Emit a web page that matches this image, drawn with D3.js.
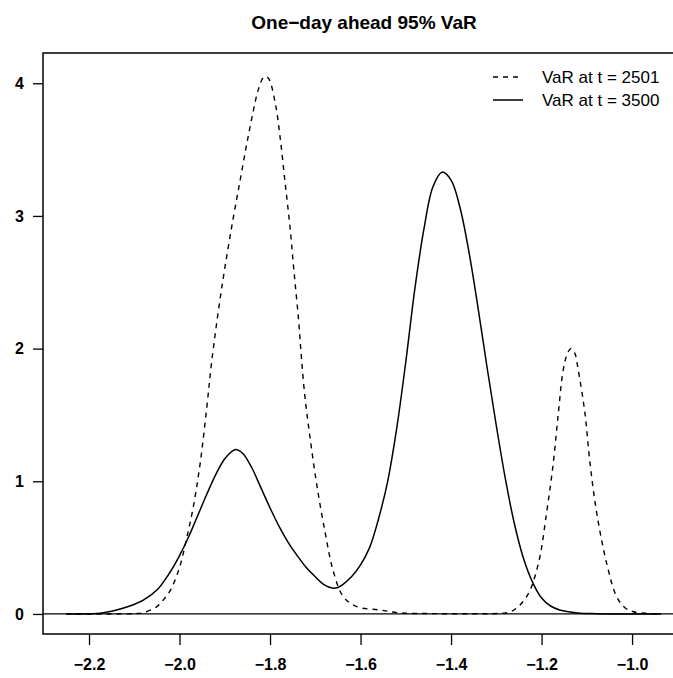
<!doctype html>
<html lang="en">
    <head>
        <meta charset="UTF-8">
        <title>One-day ahead 95% VaR</title>
        <style>
            body { margin: 0; background: #fff; }
            svg { display: block; font-family: "Liberation Sans", Arial, sans-serif; }
        </style>
    </head>
    <body>
        <script src="https://d3js.org/d3.v7.min.js"></script>
        <script>
            // density of the VaR at t = 2501 (dashed)
            var var2501X = [-2.25, -2.15, -2.10, -2.08, -2.05, -2.036, -2.02, -2.00, -1.985, -1.97, -1.955, -1.94,
                -1.929, -1.911, -1.896, -1.881, -1.866, -1.851, -1.837, -1.826, -1.813, -1.804, -1.789, -1.778,
                -1.767, -1.756, -1.747, -1.737, -1.731, -1.723, -1.712, -1.697, -1.678, -1.66, -1.638, -1.608,
                -1.557, -1.513, -1.45, -1.35, -1.29, -1.266, -1.233, -1.207, -1.189, -1.174, -1.163, -1.152,
                -1.142, -1.135, -1.127, -1.119, -1.104, -1.093, -1.078, -1.056, -1.034, -1.015, -0.997, -0.97, -0.936];
            var var2501Y = [0, 0, 0.003, 0.01, 0.055, 0.105, 0.18, 0.35, 0.56, 0.80, 1.12, 1.55,
                1.90, 2.36, 2.69, 2.99, 3.27, 3.55, 3.79, 3.95, 4.05, 4.04, 3.86, 3.60,
                3.26, 2.92, 2.58, 2.22, 1.95, 1.64, 1.34, 0.98, 0.61, 0.32, 0.13, 0.055,
                0.03, 0.008, 0.003, 0.002, 0.005, 0.02, 0.13, 0.38, 0.76, 1.14, 1.51, 1.84,
                1.97, 2.00, 1.97, 1.84, 1.51, 1.14, 0.76, 0.38, 0.13, 0.045, 0.017, 0.005, 0];

            // density of the VaR at t = 3500 (solid)
            var var3500X = [-2.25, -2.20, -2.176, -2.139, -2.11, -2.08, -2.05, -2.02, -2.00, -1.98, -1.96,
                -1.94, -1.92, -1.90, -1.88, -1.875, -1.86, -1.84, -1.82, -1.80, -1.78, -1.76, -1.74, -1.72,
                -1.70, -1.68, -1.662, -1.65, -1.64, -1.62, -1.60, -1.58, -1.56, -1.54, -1.52, -1.50, -1.48,
                -1.46, -1.44, -1.42, -1.40, -1.38, -1.36, -1.34, -1.32, -1.30, -1.28, -1.26, -1.24, -1.22,
                -1.20, -1.18, -1.16, -1.12, -1.08, -0.936];
            var var3500Y = [0, 0.002, 0.005, 0.03, 0.06, 0.105, 0.18, 0.32, 0.44, 0.58, 0.74,
                0.90, 1.05, 1.17, 1.235, 1.24, 1.21, 1.10, 0.95, 0.80, 0.66, 0.54, 0.44, 0.35,
                0.28, 0.22, 0.195, 0.20, 0.22, 0.28, 0.37, 0.50, 0.72, 1.00, 1.40, 1.90, 2.45,
                2.90, 3.22, 3.33, 3.27, 3.06, 2.72, 2.30, 1.85, 1.42, 1.02, 0.68, 0.42, 0.24,
                0.12, 0.06, 0.03, 0.008, 0.002, 0];

            var xTicks = [-2.2, -2.0, -1.8, -1.6, -1.4, -1.2, -1.0];
            var yTicks = [0, 1, 2, 3, 4];
            var legendLabels = ["VaR at t = 2501", "VaR at t = 3500"];

            var width = 673,
                height = 678;

            var svg = d3.select("body").append("svg")
                .attr("width", width)
                .attr("height", height);

            // plot box runs past the right edge of the picture
            var boxLeft = 43, boxRight = 685, boxTop = 53, boxBottom = 634;

            var x = d3.scaleLinear()
                .domain([-2.3017, -0.883])
                .range([boxLeft, boxRight]);

            var y = d3.scaleLinear()
                .domain([-0.151, 4.228])
                .range([boxBottom, boxTop]);

            var line = d3.line()
                .x(function(d) { return x(d[0]); })
                .y(function(d) { return y(d[1]); })
                .curve(d3.curveCatmullRom.alpha(0.5));

            // title
            svg.append("text")
                .attr("x", (boxLeft + boxRight) / 2)
                .attr("y", 29)
                .attr("text-anchor", "middle")
                .style("font-size", "19px")
                .style("font-weight", "bold")
                .text("One\u2212day ahead 95% VaR");

            // zero line
            svg.append("line")
                .attr("x1", boxLeft)
                .attr("x2", boxRight)
                .attr("y1", y(0))
                .attr("y2", y(0))
                .attr("stroke", "#000")
                .attr("stroke-width", 1.2);

            // curves
            svg.append("path")
                .datum(d3.zip(var2501X, var2501Y))
                .attr("d", line)
                .attr("fill", "none")
                .attr("stroke", "#000")
                .attr("stroke-width", 1.4)
                .attr("stroke-dasharray", "5,5");

            svg.append("path")
                .datum(d3.zip(var3500X, var3500Y))
                .attr("d", line)
                .attr("fill", "none")
                .attr("stroke", "#000")
                .attr("stroke-width", 1.5);

            // axes
            var xAxis = svg.append("g")
                .attr("transform", "translate(0," + boxBottom + ")")
                .call(d3.axisBottom(x)
                    .tickValues(xTicks)
                    .tickSize(11)
                    .tickPadding(14)
                    .tickFormat(d3.format(".1f")));

            var yAxis = svg.append("g")
                .attr("transform", "translate(" + boxLeft + ",0)")
                .call(d3.axisLeft(y)
                    .tickValues(yTicks)
                    .tickSize(10)
                    .tickPadding(9)
                    .tickFormat(d3.format("d")));

            [xAxis, yAxis].forEach(function(g) {
                g.select(".domain").remove();
                g.selectAll(".tick line").attr("stroke-width", 1.3);
                g.selectAll("text")
                    .style("font-family", "'Liberation Sans', Arial, sans-serif")
                    .style("font-size", "16px")
                    .style("font-weight", "bold");
            });

            // box
            svg.append("rect")
                .attr("x", boxLeft)
                .attr("y", boxTop)
                .attr("width", boxRight - boxLeft)
                .attr("height", boxBottom - boxTop)
                .attr("fill", "none")
                .attr("stroke", "#000")
                .attr("stroke-width", 1.5);

            // legend
            var legend = svg.append("g")
                .attr("transform", "translate(493,77)");

            legend.selectAll("line")
                .data(legendLabels)
                .enter()
                .append("line")
                    .attr("x1", 0)
                    .attr("x2", 30)
                    .attr("y1", function(d, i) { return i * 23; })
                    .attr("y2", function(d, i) { return i * 23; })
                    .attr("stroke", "#000")
                    .attr("stroke-width", function(d, i) { return i ? 1.5 : 1.4; })
                    .attr("stroke-dasharray", function(d, i) { return i ? null : "5,5"; });

            legend.selectAll("text")
                .data(legendLabels)
                .enter()
                .append("text")
                    .attr("x", 49)
                    .attr("y", function(d, i) { return i * 23 + 6; })
                    .style("font-size", "17px")
                    .text(function(d) { return d; });
        </script>
    </body>
</html>
